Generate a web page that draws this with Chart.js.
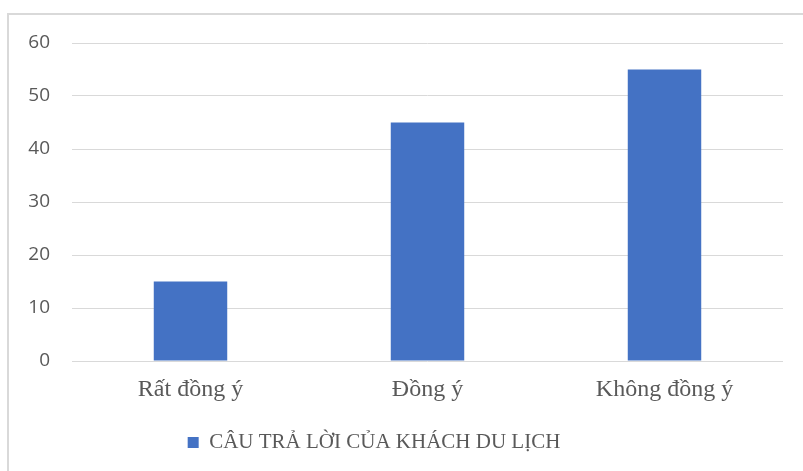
<!DOCTYPE html>
<html>
<head>
<meta charset="utf-8">
<script src="https://cdn.jsdelivr.net/npm/chart.js@4.4.1/dist/chart.umd.min.js"></script>
<style>
    html, body { margin: 0; padding: 0; background: #fff; overflow: hidden; }
    .frame {
        position: absolute; left: 7px; top: 13px;
        width: 796px; height: 458px;
        border-left: 2px solid #d9d9d9; border-top: 2px solid #d9d9d9;
    }
    canvas { display: block; }
</style>
</head>
<body>
<div class="frame"><canvas id="chart" width="794" height="456"></canvas></div>
<script>
const categories = ['Rất đồng ý', 'Đồng ý', 'Không đồng ý'];
const responses = [15, 45, 55];
const seriesLabel = 'CÂU TRẢ LỜI CỦA KHÁCH DU LỊCH';
const yTicks = [0, 10, 20, 30, 40, 50, 60];

const textColor = '#595959';
const gridColor = '#d9d9d9';
const serif = '"Liberation Serif", "Times New Roman", serif';

// legend sits a bit left of the centre in the original
const legendShift = {
    id: 'legendShift',
    afterLayout(chart) {
        chart.legend.left -= 22;
        chart.legend.right -= 22;
    }
};

new Chart(document.getElementById('chart'), {
    type: 'bar',
    data: {
        labels: categories,
        datasets: [{
            label: seriesLabel,
            data: responses,
            backgroundColor: '#4472c4',
            borderWidth: 0,
            categoryPercentage: 1,
            barPercentage: 0.31
        }]
    },
    options: {
        responsive: false,
        animation: false,
        layout: { padding: { left: 0, right: 20, top: 28, bottom: 8 } },
        plugins: {
            tooltip: { enabled: false },
            legend: {
                position: 'bottom',
                labels: {
                    boxWidth: 11, boxHeight: 11, padding: 4,
                    color: textColor,
                    font: { family: serif, size: 21 }
                }
            }
        },
        scales: {
            x: {
                grid: { display: false, drawTicks: false },
                border: { display: false },
                ticks: {
                    color: textColor, padding: 14,
                    font: { family: serif, size: 24 }
                },
                afterFit: s => { s.height = 67; }
            },
            y: {
                min: 0, max: 60,
                afterBuildTicks: s => { s.ticks = yTicks.map(v => ({ value: v })); },
                // invisible tick marks keep the labels away from the plot without extra top padding
                grid: { color: gridColor, lineWidth: 1, drawTicks: true, tickLength: 18, tickColor: 'rgba(0,0,0,0)' },
                border: { display: false },
                ticks: {
                    color: textColor, padding: 4,
                    font: { family: '"Open Sans", sans-serif', size: 19 }
                },
                afterFit: s => { s.width = 63; }
            }
        }
    },
    plugins: [legendShift]
});
</script>
</body>
</html>
